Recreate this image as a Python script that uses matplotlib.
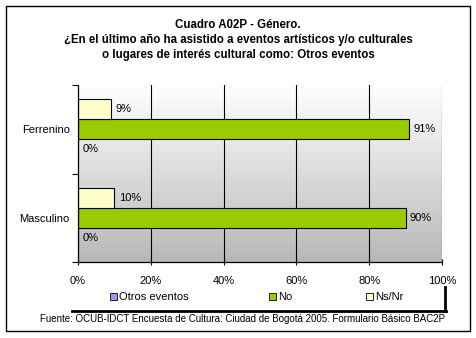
import numpy as np
import matplotlib
matplotlib.use("Agg")
import matplotlib.pyplot as plt
from matplotlib.patches import Rectangle
from matplotlib.lines import Line2D

# ── data ──────────────────────────────────────────────────────────────────────
categories = ["Masculino", "Ferrenino"]
otros = [0, 0]
no = [90, 91]
nsnr = [10, 9]
series_names = ["Otros eventos", "No", "Ns/Nr"]
series_colors = ["#9999ff", "#99cc00", "#ffffcc"]
xticks = [0, 20, 40, 60, 80, 100]

title = ("Cuadro A02P - Género.\n"
         "¿En el último año ha asistido a eventos artísticos y/o culturales\n"
         "o lugares de interés cultural como: Otros eventos")
source = ("Fuente: OCUB-IDCT Encuesta de Cultura: Ciudad de Bogotá 2005. "
          "Formulario Básico BAC2P")

plt.rcParams["font.family"] = ["Liberation Sans", "DejaVu Sans"]
FS = 8

W, H = 476, 338
fig = plt.figure(figsize=(W / 100, H / 100), dpi=100)

def fx(x):
    return x / W

def fy(y):
    return 1 - y / H

# outer frame
fig.patches.append(Rectangle((fx(6), fy(331)), fx(464), (325) / H,
                             transform=fig.transFigure, fill=False,
                             edgecolor="black", linewidth=1))

fig.text(0.5, fy(19.5), title, ha="center", va="top", fontsize=8.3,
         fontweight="bold", linespacing=1.33)

# ── plot area ─────────────────────────────────────────────────────────────────
ax = fig.add_axes([fx(78), fy(262), fx(364), 177 / H])
ax.set_xlim(0, 100)
ax.set_ylim(-0.5, 1.5)

# grey gradient backdrop
grad = np.linspace(0, 1, 256).reshape(-1, 1)
ax.imshow(grad, aspect="auto", extent=[0, 100, -0.5, 1.5], origin="upper",
          cmap=matplotlib.colors.LinearSegmentedColormap.from_list(
              "bg", ["#ffffff", "#b8b8b8"]), zorder=0)

for x in xticks[1:]:
    ax.axvline(x, color="black", linewidth=0.8, zorder=1)

h = 0.226
y = np.arange(len(categories))
offsets = [-h, 0, h]
for vals, off, col in zip([otros, no, nsnr], offsets, series_colors):
    ax.barh(y + off, vals, height=h, color=col, edgecolor="black",
            linewidth=0.8, zorder=2)
    for yi, v in zip(y, vals):
        ax.text(v + 1.2, yi + off, f"{v}%", va="center", ha="left",
                fontsize=FS, zorder=3)

ax.set_yticks([-0.5, 0.5, 1.5])
ax.set_yticklabels([])
ax.set_yticks(y, minor=True)
ax.set_yticklabels(categories, minor=True, fontsize=FS)
ax.tick_params(axis="y", which="minor", length=0, pad=6)
ax.tick_params(axis="y", which="major", length=4, width=0.8)
ax.set_xticks(xticks)
ax.set_xticklabels([f"{x}%" for x in xticks], fontsize=FS)
ax.tick_params(axis="x", length=4, width=0.8, pad=8, direction="inout")

for side in ["top", "right"]:
    ax.spines[side].set_visible(False)
for side in ["left", "bottom"]:
    ax.spines[side].set_linewidth(0.9)

# ── legend ────────────────────────────────────────────────────────────────────
fig.lines.append(Line2D([fx(72), fx(446)], [fy(311), fy(311)],
                        transform=fig.transFigure, color="black", linewidth=2))
fig.lines.append(Line2D([fx(445), fx(445)], [fy(287), fy(311)],
                        transform=fig.transFigure, color="black", linewidth=2))
legend_x = [110, 269, 366]
for lx, name, col in zip(legend_x, series_names, series_colors):
    fig.patches.append(Rectangle((fx(lx), fy(300)), fx(7), 7 / H,
                                 transform=fig.transFigure, facecolor=col,
                                 edgecolor="black", linewidth=0.6))
    fig.text(fx(lx + 9), fy(296.5), name, ha="left", va="center", fontsize=FS)

fig.text(fx(243), fy(319), source, ha="center", va="center", fontsize=7.0)

fig.savefig("out.png", dpi=100)
